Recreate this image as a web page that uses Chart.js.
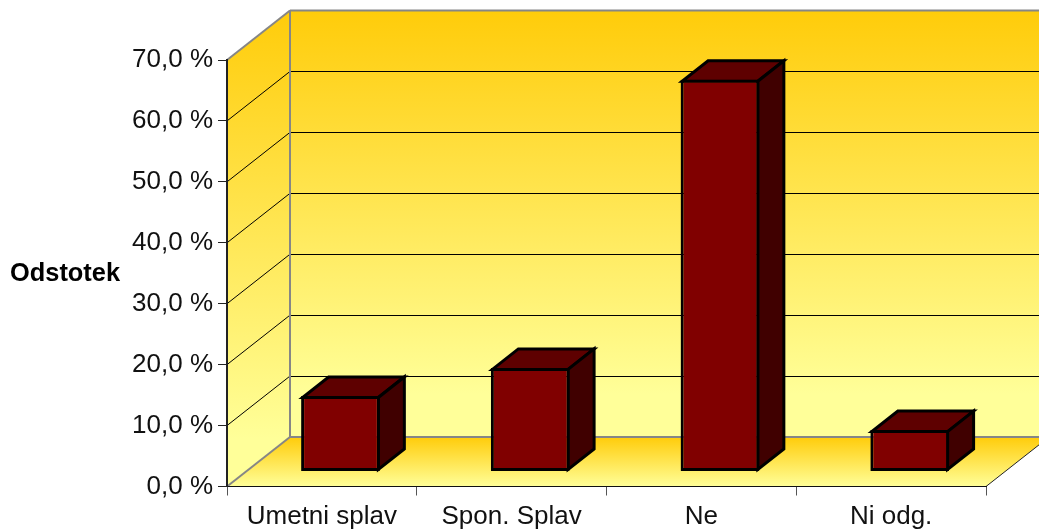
<!DOCTYPE html>
<html><head><meta charset="utf-8">
<style>html,body{margin:0;padding:0;background:#fff}canvas{display:block}</style>
<script src="https://cdn.jsdelivr.net/npm/chart.js@4"></script>
</head><body>
<canvas id="c" width="1039" height="532"></canvas>
<script>
const categories = ["Umetni splav", "Spon. Splav", "Ne", "Ni odg."];
const values = [12.4, 17.0, 64.3, 6.8];
const axisTitle = "Odstotek";
const tickStep = 10, axisMax = 70;

const WALL = {dx: 63, dy: -49.5};
const BAR_SHIFT = {dx: 18.6, dy: -15};
const BAR_DEPTH = {dx: 26, dy: -20.5};
const BAR_LINE = 3;
const FONT = "Liberation Sans, Arial, sans-serif";

function poly(ctx, pts) {
  ctx.beginPath();
  pts.forEach((p, i) => i ? ctx.lineTo(p[0], p[1]) : ctx.moveTo(p[0], p[1]));
  ctx.closePath();
}
function grad(ctx, y0, y1, end) {
  const g = ctx.createLinearGradient(0, y0, 0, y1);
  g.addColorStop(0, "#FFCC0A");
  g.addColorStop(end, "#FFFF99");
  g.addColorStop(1, "#FFFF99");
  return g;
}
function line(ctx, x0, y0, x1, y1, color, w) {
  ctx.strokeStyle = color; ctx.lineWidth = w;
  ctx.beginPath(); ctx.moveTo(x0, y0); ctx.lineTo(x1, y1); ctx.stroke();
}

const walls3d = {
  id: "walls3d",
  beforeDraw(chart) {
    const {ctx, chartArea: a, scales: {y}} = chart;
    const {dx, dy} = WALL;
    const L = a.left, R = a.right, T = a.top, B = a.bottom;
    ctx.save();
    poly(ctx, [[L, B], [L, T], [L + dx, T + dy], [L + dx, B + dy]]);
    ctx.fillStyle = grad(ctx, T + dy, B, 0.9); ctx.fill();
    poly(ctx, [[L + dx, T + dy], [R + dx, T + dy], [R + dx, B + dy], [L + dx, B + dy]]);
    ctx.fillStyle = grad(ctx, T + dy, B + dy, 0.9); ctx.fill();
    poly(ctx, [[L, B], [R, B], [R + dx, B + dy], [L + dx, B + dy]]);
    ctx.fillStyle = grad(ctx, B + dy, B, 1); ctx.fill();
    y.ticks.forEach(t => {
      if (t.value <= 0 || t.value >= axisMax) return;
      const py = y.getPixelForValue(t.value);
      line(ctx, L, py, L + dx, py + dy, "#000", 1);
      const by = Math.floor(py + dy) + 0.5;
      line(ctx, L + dx, by, R + dx, by, "#000", 1);
    });
    const grey = "#868686";
    line(ctx, L, T, L + dx, T + dy, grey, 2);
    line(ctx, L + dx, T + dy, R + dx, T + dy, grey, 2);
    line(ctx, L + dx, T + dy, L + dx, B + dy, grey, 2);
    line(ctx, L + dx, B + dy, R + dx, B + dy, grey, 2);
    line(ctx, L, B, L + dx, B + dy, grey, 2);
    line(ctx, R, B, R + dx, B + dy, "#222", 1);
    ctx.restore();
  },
  beforeDatasetDraw(chart, args) {
    const {ctx} = chart;
    ctx.save();
    ctx.translate(BAR_SHIFT.dx, BAR_SHIFT.dy);
    const {dx, dy} = BAR_DEPTH, h = BAR_LINE / 2;
    args.meta.data.forEach(el => {
      const l = el.x - el.width / 2 + h, r = el.x + el.width / 2 - h, t = el.y + h, b = el.base - h;
      ctx.lineJoin = "miter"; ctx.lineWidth = BAR_LINE; ctx.strokeStyle = "#000";
      poly(ctx, [[l, t], [r, t], [r + dx, t + dy], [l + dx, t + dy]]);
      ctx.fillStyle = "#5E0000"; ctx.fill(); ctx.stroke();
      poly(ctx, [[r, t], [r + dx, t + dy], [r + dx, b + dy], [r, b]]);
      ctx.fillStyle = "#400000"; ctx.fill(); ctx.stroke();
    });
  },
  afterDatasetDraw(chart) { chart.ctx.restore(); },
  afterDraw(chart) {
    const {ctx, chartArea: a} = chart;
    ctx.save();
    ctx.fillStyle = "#000";
    ctx.font = "bold 25.4px " + FONT;
    ctx.textAlign = "left"; ctx.textBaseline = "middle";
    ctx.fillText(axisTitle, 10, (a.top + a.bottom) / 2 + 0.5);
    ctx.restore();
  }
};

new Chart(document.getElementById("c"), {
  type: "bar",
  data: {labels: categories, datasets: [{
    data: values, backgroundColor: "#800000", borderColor: "#000", borderWidth: BAR_LINE,
    borderSkipped: false, barPercentage: 0.415, categoryPercentage: 1, clip: false
  }]},
  plugins: [walls3d],
  options: {
    responsive: false, animation: false, devicePixelRatio: 1,
    layout: {padding: {top: 60, right: 53, left: 0, bottom: 0}},
    plugins: {legend: {display: false}, tooltip: {enabled: false}, title: {display: false}},
    scales: {
      x: {
        afterFit(s) { s.height = 45.5; },
        grid: {drawOnChartArea: false, drawTicks: true, tickLength: 9, color: "#555", offset: true},
        border: {color: "#111", width: 1},
        ticks: {color: "#111", font: {family: FONT, size: 26}, padding: 6, maxRotation: 0, autoSkip: false}
      },
      y: {
        min: 0, max: axisMax,
        afterFit(s) { s.width = 227; },
        grid: {drawOnChartArea: false, drawTicks: true, tickLength: 9, color: "#222"},
        border: {color: "#222", width: 2},
        ticks: {
          stepSize: tickStep, color: "#111", font: {family: FONT, size: 26}, padding: 5,
          callback: v => v.toFixed(1).replace(".", ",") + " %"
        }
      }
    }
  }
});
</script>
</body></html>
